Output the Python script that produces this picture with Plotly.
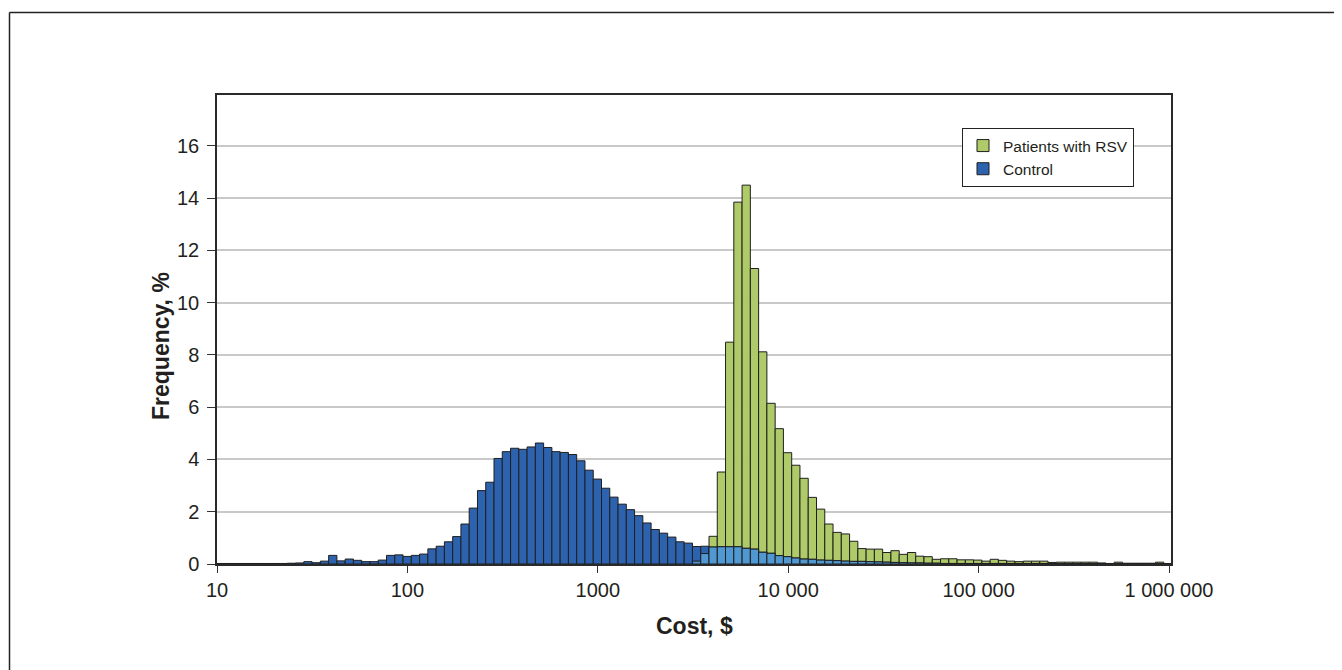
import numpy as np
import plotly.graph_objects as go

# ---- data (frequency %, one value per log-bin; bins centred at 10*e^(0.1k)) ----
first_bin_center = 10
ln_step = 0.1

control = [
    0.02, 0.02, 0.02, 0.02, 0.02, 0.02, 0.02, 0.02, 0.02, 0.03,   # k 0-9
    0.04, 0.09, 0.05, 0.11, 0.33, 0.12, 0.19, 0.14, 0.09, 0.09,   # k 10-19
    0.15, 0.33, 0.35, 0.29, 0.33, 0.38, 0.58, 0.68, 0.85, 1.05,   # k 20-29
    1.53, 2.14, 2.81, 3.13, 4.04, 4.30, 4.43, 4.39, 4.48, 4.63,   # k 30-39
    4.46, 4.30, 4.27, 4.19, 3.95, 3.59, 3.25, 2.90, 2.56, 2.29,   # k 40-49
    2.08, 1.85, 1.57, 1.32, 1.18, 1.03, 0.85, 0.80, 0.67, 0.68,   # k 50-59
    0.65, 0.66, 0.66, 0.66, 0.60, 0.57, 0.45, 0.41, 0.32, 0.28,   # k 60-69
    0.23, 0.19, 0.18, 0.15, 0.14, 0.13, 0.11, 0.10, 0.10, 0.09,   # k 70-79
    0.08, 0.07, 0.06, 0.05, 0.04, 0.04, 0.03, 0.03, 0.02, 0.02,   # k 80-89
    0.02, 0.02, 0.02, 0.02, 0.02, 0.02, 0.02, 0.02, 0.02, 0.02,   # k 90-99
    0.02, 0.01, 0.01, 0.01, 0.01, 0.01, 0.01, 0.01, 0.01, 0.01,   # k 100-109
    0.01, 0.01, 0.01, 0.01, 0.01, 0.01,                           # k 110-115
]

rsv = [
    0, 0, 0, 0, 0, 0, 0, 0, 0, 0,                                 # k 0-9
    0, 0, 0, 0, 0, 0, 0, 0, 0, 0,                                 # k 10-19
    0, 0, 0, 0, 0, 0, 0, 0, 0, 0,                                 # k 20-29
    0, 0, 0, 0, 0, 0, 0, 0, 0, 0,                                 # k 30-39
    0, 0, 0, 0, 0, 0, 0, 0, 0, 0,                                 # k 40-49
    0, 0, 0, 0, 0, 0, 0, 0, 0.11, 0.40,                           # k 50-59
    1.06, 3.52, 8.49, 13.85, 14.50, 11.31, 8.12, 6.15, 5.18, 4.26,  # k 60-69
    3.78, 3.28, 2.55, 2.10, 1.53, 1.21, 1.15, 0.87, 0.59, 0.57,   # k 70-79
    0.57, 0.44, 0.51, 0.37, 0.44, 0.30, 0.28, 0.18, 0.20, 0.20,   # k 80-89
    0.16, 0.16, 0.15, 0.11, 0.18, 0.14, 0.11, 0.09, 0.11, 0.11,   # k 90-99
    0.11, 0.06, 0.07, 0.07, 0.07, 0.07, 0.07, 0.04, 0.02, 0.07,   # k 100-109
    0.03, 0.03, 0.03, 0.03, 0.07, 0.02,                           # k 110-115
]

x_ticks = [10, 100, 1000, 10000, 100000, 1000000]
x_tick_labels = ["10", "100", "1000", "10 000", "100 000", "1 000 000"]
y_ticks = [0, 2, 4, 6, 8, 10, 12, 14, 16]

# ---- bin geometry (log-spaced bins) ----
n = len(control)
centers_ln = np.log(first_bin_center) + ln_step * np.arange(n)
lo = np.exp(centers_ln - ln_step / 2)
hi = np.exp(centers_ln + ln_step / 2)
xmid = (lo + hi) / 2
widths = hi - lo
overlap = [min(a, b) if min(a, b) > 0 else None for a, b in zip(control, rsv)]

GREEN = "#AFCB69"
DARK_BLUE = "#2D62AF"
LIGHT_BLUE = "#4F98D2"
EDGE = "#1F1F1F"
TEXT = "#231F20"
FONT = "Liberation Sans, Arial, sans-serif"

# page offset (body margin) between figure coords and screenshot coords
OFF = 8
W, H = 1342, 670
# plot area in screenshot coords: x 217..1171, y 95..564
L, T = 217 - OFF, 95 - OFF
R, B = W - (1171 - OFF), H - (564 - OFF)
PW, PH = W - L - R, H - T - B


def px_x(px):
    return (px - OFF - L) / PW


def px_y(py):
    return (H - B - (py - OFF)) / PH


fig = go.Figure()
fig.add_trace(go.Bar(x=xmid, y=rsv, width=widths, name="Patients with RSV",
                     marker=dict(color=GREEN, line=dict(color=EDGE, width=1))))
fig.add_trace(go.Bar(x=xmid, y=control, width=widths, name="Control",
                     marker=dict(color=DARK_BLUE, line=dict(color=EDGE, width=1))))
fig.add_trace(go.Bar(x=xmid, y=overlap, width=widths, name="Overlap", showlegend=False,
                     marker=dict(color=LIGHT_BLUE, line=dict(color=EDGE, width=1))))

fig.update_layout(
    width=W, height=H,
    margin=dict(l=L, r=R, t=T, b=B),
    paper_bgcolor="white", plot_bgcolor="white",
    barmode="overlay",
    font=dict(family=FONT, color=TEXT),
    showlegend=True,
    legend=dict(x=px_x(962), y=px_y(128), xanchor="left", yanchor="top",
                bordercolor="#222222", borderwidth=1, bgcolor="white",
                font=dict(size=15.5, family=FONT, color=TEXT),
                traceorder="normal", tracegroupgap=0),
    xaxis=dict(type="log", range=[1, 6.0105],
               tickvals=x_ticks, ticktext=x_tick_labels,
               ticks="outside", ticklen=7, tickwidth=1.2, tickcolor="#333333",
               showline=True, linecolor="#2A2A2A", linewidth=1.5, mirror=True,
               showgrid=False, zeroline=False,
               tickfont=dict(size=20, family=FONT, color=TEXT),
               ticklabelstandoff=0),
    yaxis=dict(range=[0, 17.95], tickvals=y_ticks,
               ticks="outside", ticklen=8, tickwidth=1.2, tickcolor="#333333",
               showline=True, linecolor="#2A2A2A", linewidth=1.5, mirror=True,
               showgrid=True, gridcolor="#C9C9C9", gridwidth=1.5, zeroline=False,
               tickfont=dict(size=20, family=FONT, color=TEXT),
               ticklabelstandoff=4),
    annotations=[
        dict(text="<b>Frequency, %</b>", xref="paper", yref="paper",
             x=px_x(161), y=px_y(346), xanchor="center", yanchor="middle",
             textangle=-90, showarrow=False,
             font=dict(size=23, family=FONT, color=TEXT)),
        dict(text="<b>Cost, $</b>", xref="paper", yref="paper",
             x=px_x(694), y=px_y(626), xanchor="center", yanchor="middle",
             showarrow=False, font=dict(size=23, family=FONT, color=TEXT)),
    ],
    shapes=[
        dict(type="line", xref="paper", yref="paper",
             x0=px_x(9.5), x1=px_x(1360), y0=px_y(12.5), y1=px_y(12.5),
             line=dict(color="#222222", width=1.5)),
        dict(type="line", xref="paper", yref="paper",
             x0=px_x(9.5), x1=px_x(9.5), y0=px_y(12.5), y1=px_y(690),
             line=dict(color="#222222", width=1.5)),
    ],
)

fig.write_html("out.html")
